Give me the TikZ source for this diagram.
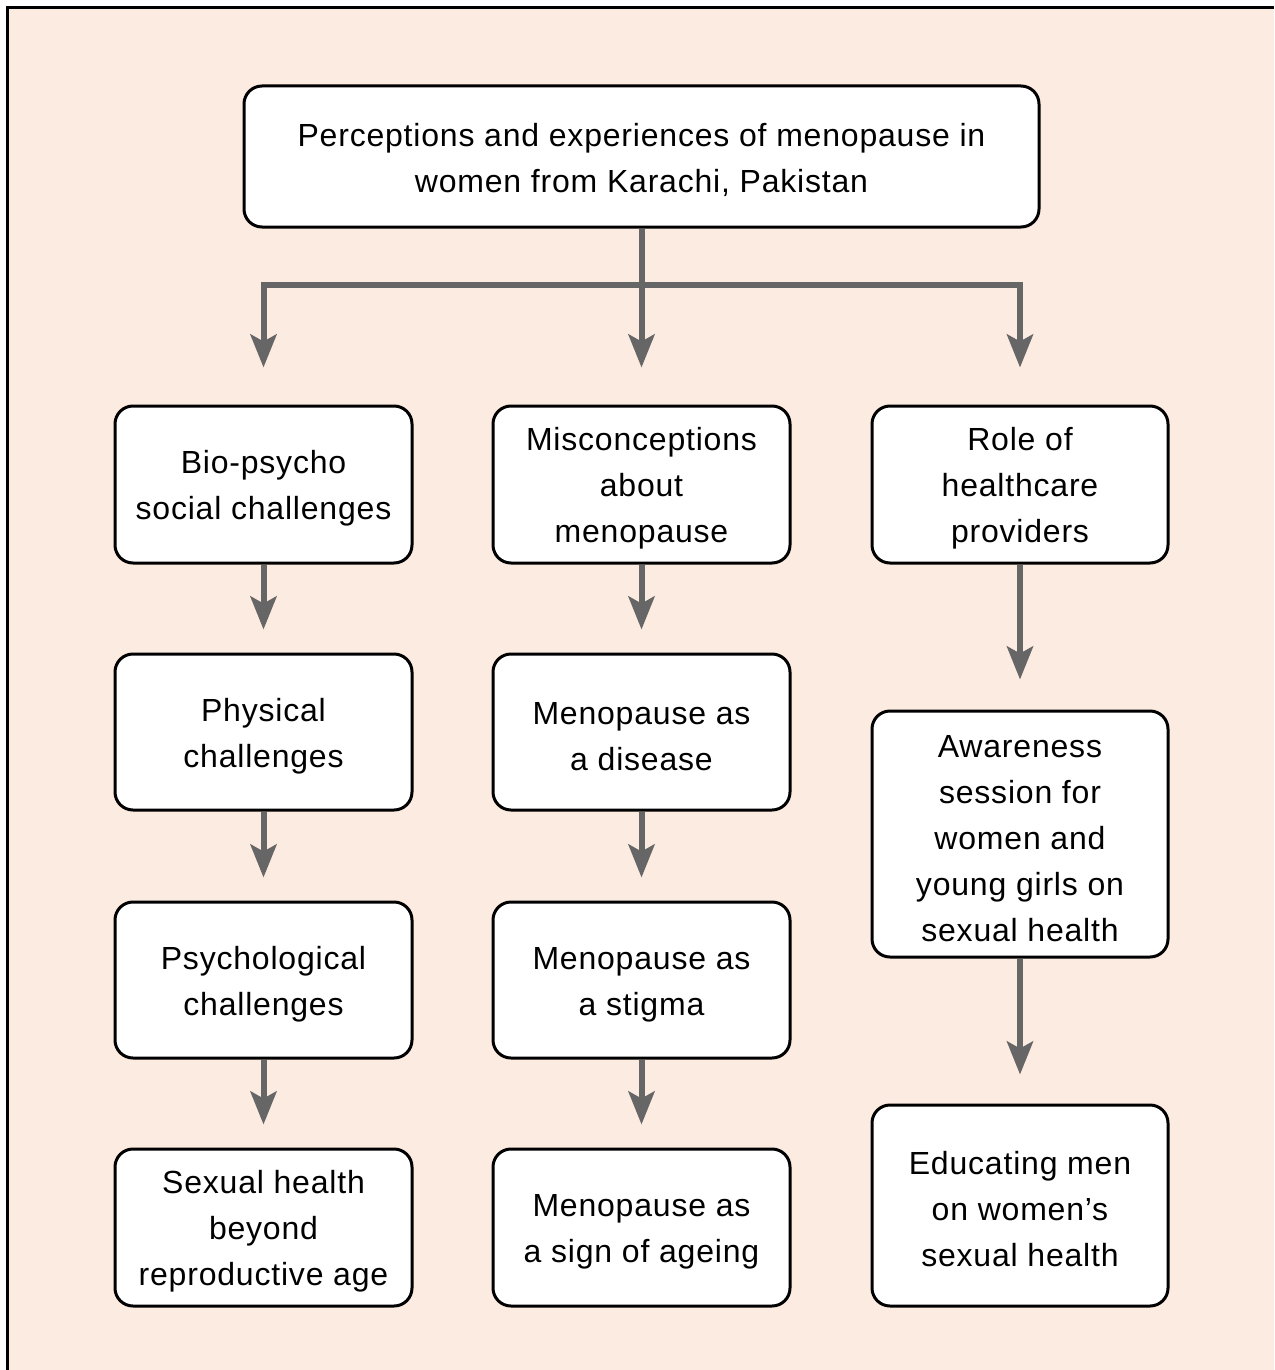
\documentclass[tikz,border=0pt]{standalone}
\usepackage{fontspec}
\setmainfont{Liberation Sans}[LetterSpace=2.5]
\usetikzlibrary{arrows.meta}
\definecolor{bgpeach}{HTML}{FCEBE1}
\definecolor{arrgray}{HTML}{666666}
\newcommand\upstrut{\rule{0pt}{31pt}}
\tikzset{
  box/.style={draw=black, line width=3pt, fill=white, rounded corners=18pt,
    align=center, inner sep=4pt, font=\fontsize{32}{46}\selectfont},
  conn/.style={draw=arrgray, line width=6pt},
  arr/.style={conn, -{Stealth[length=33pt, width=26pt, inset=7pt]}},
}
\begin{document}
\begin{tikzpicture}[x=1pt, y=-1pt]
\useasboundingbox (0,0) rectangle (1274,1370);
\fill[white] (0,0) rectangle (1274,1370);
\fill[bgpeach] (7.5,8) rectangle (1274,1370);
\draw[line width=3pt, line cap=butt] (7.5,1370) -- (7.5,8) -- (1274,8);

% nodes
\node[box, minimum width=795pt, minimum height=141pt] (top) at (641.5,156.5)
  {\upstrut Perceptions and experiences of menopause in\\women from Karachi, Pakistan};

\node[box, minimum width=297pt, minimum height=157pt] (l1) at (263.5,484.5) {\upstrut Bio-psycho\\social challenges};
\node[box, minimum width=297pt, minimum height=156pt] (l2) at (263.5,732) {\upstrut Physical\\challenges};
\node[box, minimum width=297pt, minimum height=156pt] (l3) at (263.5,980) {\upstrut Psychological\\challenges};
\node[box, minimum width=297pt, minimum height=157pt] (l4) at (263.5,1227.5) {\upstrut Sexual health\\beyond\\reproductive age};

\node[box, minimum width=297pt, minimum height=157pt] (m1) at (641.5,484.5) {\upstrut Misconceptions\\about\\menopause};
\node[box, minimum width=297pt, minimum height=156pt] (m2) at (641.5,732) {\upstrut Menopause as\\a disease};
\node[box, minimum width=297pt, minimum height=156pt] (m3) at (641.5,980) {\upstrut Menopause as\\a stigma};
\node[box, minimum width=297pt, minimum height=157pt] (m4) at (641.5,1227.5) {\upstrut Menopause as\\a sign of ageing};

\node[box, minimum width=296pt, minimum height=157pt] (r1) at (1020,484.5) {\upstrut Role of\\healthcare\\providers};
\node[box, minimum width=296pt, minimum height=246pt] (r2) at (1020,834) {\upstrut Awareness\\session for\\women and\\young girls on\\sexual health};
\node[box, minimum width=296pt, minimum height=201pt] (r3) at (1020,1205.5) {\upstrut Educating men\\on women’s\\sexual health};

% connectors
\coordinate (j) at (641.5,285);
\draw[conn] (top.south) -- (j);
\draw[arr, shorten >=37pt] (j) -| (l1.north);
\draw[arr, shorten >=37pt] (j) -- (m1.north);
\draw[arr, shorten >=37pt] (j) -| (r1.north);

\draw[arr, shorten >=23pt] (l1.south) -- (l2.north);
\draw[arr, shorten >=23pt] (l2.south) -- (l3.north);
\draw[arr, shorten >=23pt] (l3.south) -- (l4.north);
\draw[arr, shorten >=23pt] (m1.south) -- (m2.north);
\draw[arr, shorten >=23pt] (m2.south) -- (m3.north);
\draw[arr, shorten >=23pt] (m3.south) -- (m4.north);
\draw[arr, shorten >=30pt] (r1.south) -- (r2.north);
\draw[arr, shorten >=29pt] (r2.south) -- (r3.north);
\end{tikzpicture}
\end{document}
